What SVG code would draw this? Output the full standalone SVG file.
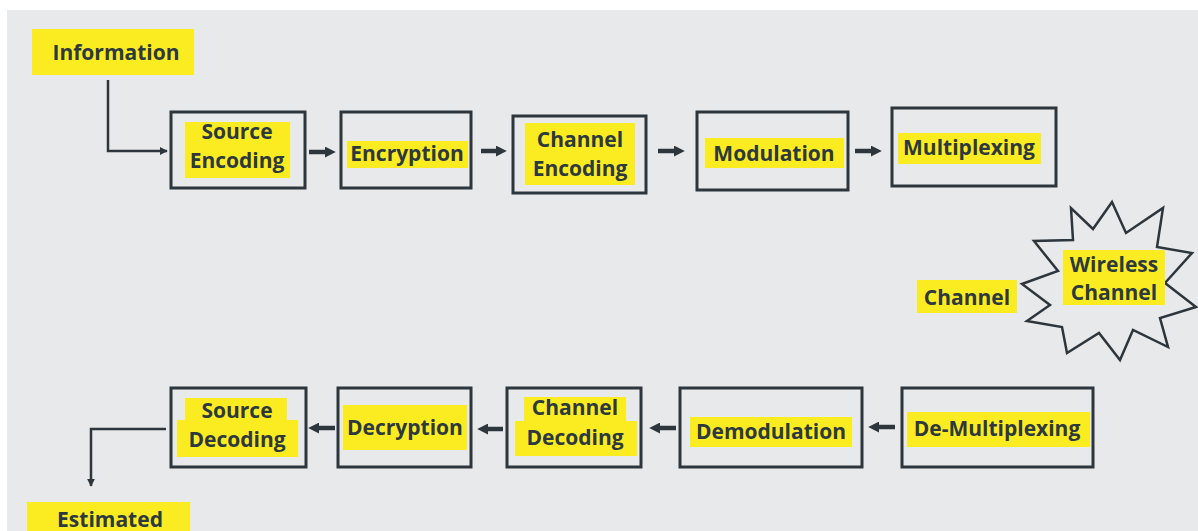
<svg xmlns="http://www.w3.org/2000/svg" width="1198" height="531" viewBox="0 0 1198 531">
  <defs>
    <style>
      .box { fill: none; stroke: #2c363c; stroke-width: 3; }
      .hl { fill: #fbec22; }
      .lbl { font-family: "Open Sans", Lato, sans-serif; font-weight: 700; font-size: 21px; fill: #2d393e; text-anchor: middle; }
      .wire { fill: none; stroke: #2c363c; stroke-width: 2.5; }
      .flow { fill: none; stroke: #2c363c; stroke-width: 4.5; }
      .burst { fill: #e8e9eb; stroke: #2c363c; stroke-width: 2.5; stroke-linejoin: miter; }
    </style>
    <marker id="tip" viewBox="0 0 10 10" refX="9" refY="5" markerWidth="8" markerHeight="8" markerUnits="userSpaceOnUse" orient="auto">
      <path d="M0,0 L10,5 L0,10 Z" fill="#2c363c"/>
    </marker>
    <marker id="head" viewBox="0 0 10 10" refX="2" refY="5" markerWidth="11" markerHeight="11" markerUnits="userSpaceOnUse" orient="auto">
      <path d="M0,0 L10,5 L0,10 Z" fill="#2c363c"/>
    </marker>
  </defs>

  <!-- page -->
  <rect x="0" y="0" width="1198" height="531" fill="#ffffff"/>
  <rect x="7" y="10" width="1191" height="521" fill="#e8e9eb"/>

  <!-- connectors -->
  <g id="connectors">
    <path class="wire" d="M108,80 V151 H167" marker-end="url(#tip)"/>
    <path class="flow" d="M309,152 H327" marker-end="url(#head)"/>
    <path class="flow" d="M481,151 H498" marker-end="url(#head)"/>
    <path class="flow" d="M658,151 H676" marker-end="url(#head)"/>
    <path class="flow" d="M855,151 H873" marker-end="url(#head)"/>
    <path class="flow" d="M895,427 H877" marker-end="url(#head)"/>
    <path class="flow" d="M676,428 H658" marker-end="url(#head)"/>
    <path class="flow" d="M503,429 H486" marker-end="url(#head)"/>
    <path class="flow" d="M335,428 H317" marker-end="url(#head)"/>
    <path class="wire" d="M166,429 H91 V486" marker-end="url(#tip)"/>
  </g>

  <!-- transmit chain -->
  <g id="information">
    <rect class="hl" x="32" y="29" width="162" height="46"/>
    <text class="lbl" x="116" y="60">Information</text>
  </g>

  <g id="source-encoding">
    <rect class="box" x="171" y="112" width="134" height="76"/>
    <rect class="hl" x="185" y="122" width="105" height="56"/>
    <text class="lbl" x="237" y="139">Source</text>
    <text class="lbl" x="237" y="168">Encoding</text>
  </g>

  <g id="encryption">
    <rect class="box" x="341" y="112" width="130" height="76"/>
    <rect class="hl" x="347" y="141" width="121" height="27"/>
    <text class="lbl" x="407" y="161">Encryption</text>
  </g>

  <g id="channel-encoding">
    <rect class="box" x="513" y="116" width="133" height="77"/>
    <rect class="hl" x="525" y="123" width="110" height="62"/>
    <text class="lbl" x="580" y="147">Channel</text>
    <text class="lbl" x="580" y="176">Encoding</text>
  </g>

  <g id="modulation">
    <rect class="box" x="697" y="112" width="151" height="78"/>
    <rect class="hl" x="705" y="138" width="139" height="30"/>
    <text class="lbl" x="774" y="161">Modulation</text>
  </g>

  <g id="multiplexing">
    <rect class="box" x="892" y="108" width="164" height="78"/>
    <rect class="hl" x="898" y="133" width="143" height="31"/>
    <text class="lbl" x="969" y="155">Multiplexing</text>
  </g>

  <!-- channel -->
  <g id="channel">
    <rect class="hl" x="917" y="280" width="100" height="33"/>
    <text class="lbl" x="967" y="305">Channel</text>
  </g>

  <g id="wireless-channel">
    <polygon class="burst" points="1112,202 1126,233 1163,208 1157,247 1192,253 1165,283 1196,307 1160,318 1168,347 1133,330 1120,360 1099,333 1067,353 1062,327 1027,321 1050,305 1022,284 1058,271 1034,241 1073,240 1071,208 1093,229"/>
    <rect class="hl" x="1063" y="250" width="102" height="55"/>
    <text class="lbl" x="1114" y="272">Wireless</text>
    <text class="lbl" x="1114" y="300">Channel</text>
  </g>

  <!-- receive chain -->
  <g id="de-multiplexing">
    <rect class="box" x="902" y="388" width="191" height="79"/>
    <rect class="hl" x="907" y="412" width="183" height="35"/>
    <text class="lbl" x="997" y="436">De-Multiplexing</text>
  </g>

  <g id="demodulation">
    <rect class="box" x="680" y="388" width="182" height="79"/>
    <rect class="hl" x="690" y="417" width="162" height="30"/>
    <text class="lbl" x="771" y="439">Demodulation</text>
  </g>

  <g id="channel-decoding">
    <rect class="box" x="507" y="388" width="134" height="79"/>
    <rect class="hl" x="524" y="397" width="102" height="25"/>
    <rect class="hl" x="515" y="421" width="122" height="35"/>
    <text class="lbl" x="575" y="415">Channel</text>
    <text class="lbl" x="575" y="445">Decoding</text>
  </g>

  <g id="decryption">
    <rect class="box" x="338" y="388" width="133" height="79"/>
    <rect class="hl" x="343" y="405" width="124" height="45"/>
    <text class="lbl" x="405" y="435">Decryption</text>
  </g>

  <g id="source-decoding">
    <rect class="box" x="171" y="388" width="135" height="79"/>
    <rect class="hl" x="185" y="398" width="102" height="23"/>
    <rect class="hl" x="177" y="420" width="121" height="37"/>
    <text class="lbl" x="237" y="418">Source</text>
    <text class="lbl" x="237" y="447">Decoding</text>
  </g>

  <g id="estimated">
    <rect class="hl" x="27" y="502" width="163" height="29"/>
    <text class="lbl" x="110" y="527">Estimated</text>
  </g>
</svg>
